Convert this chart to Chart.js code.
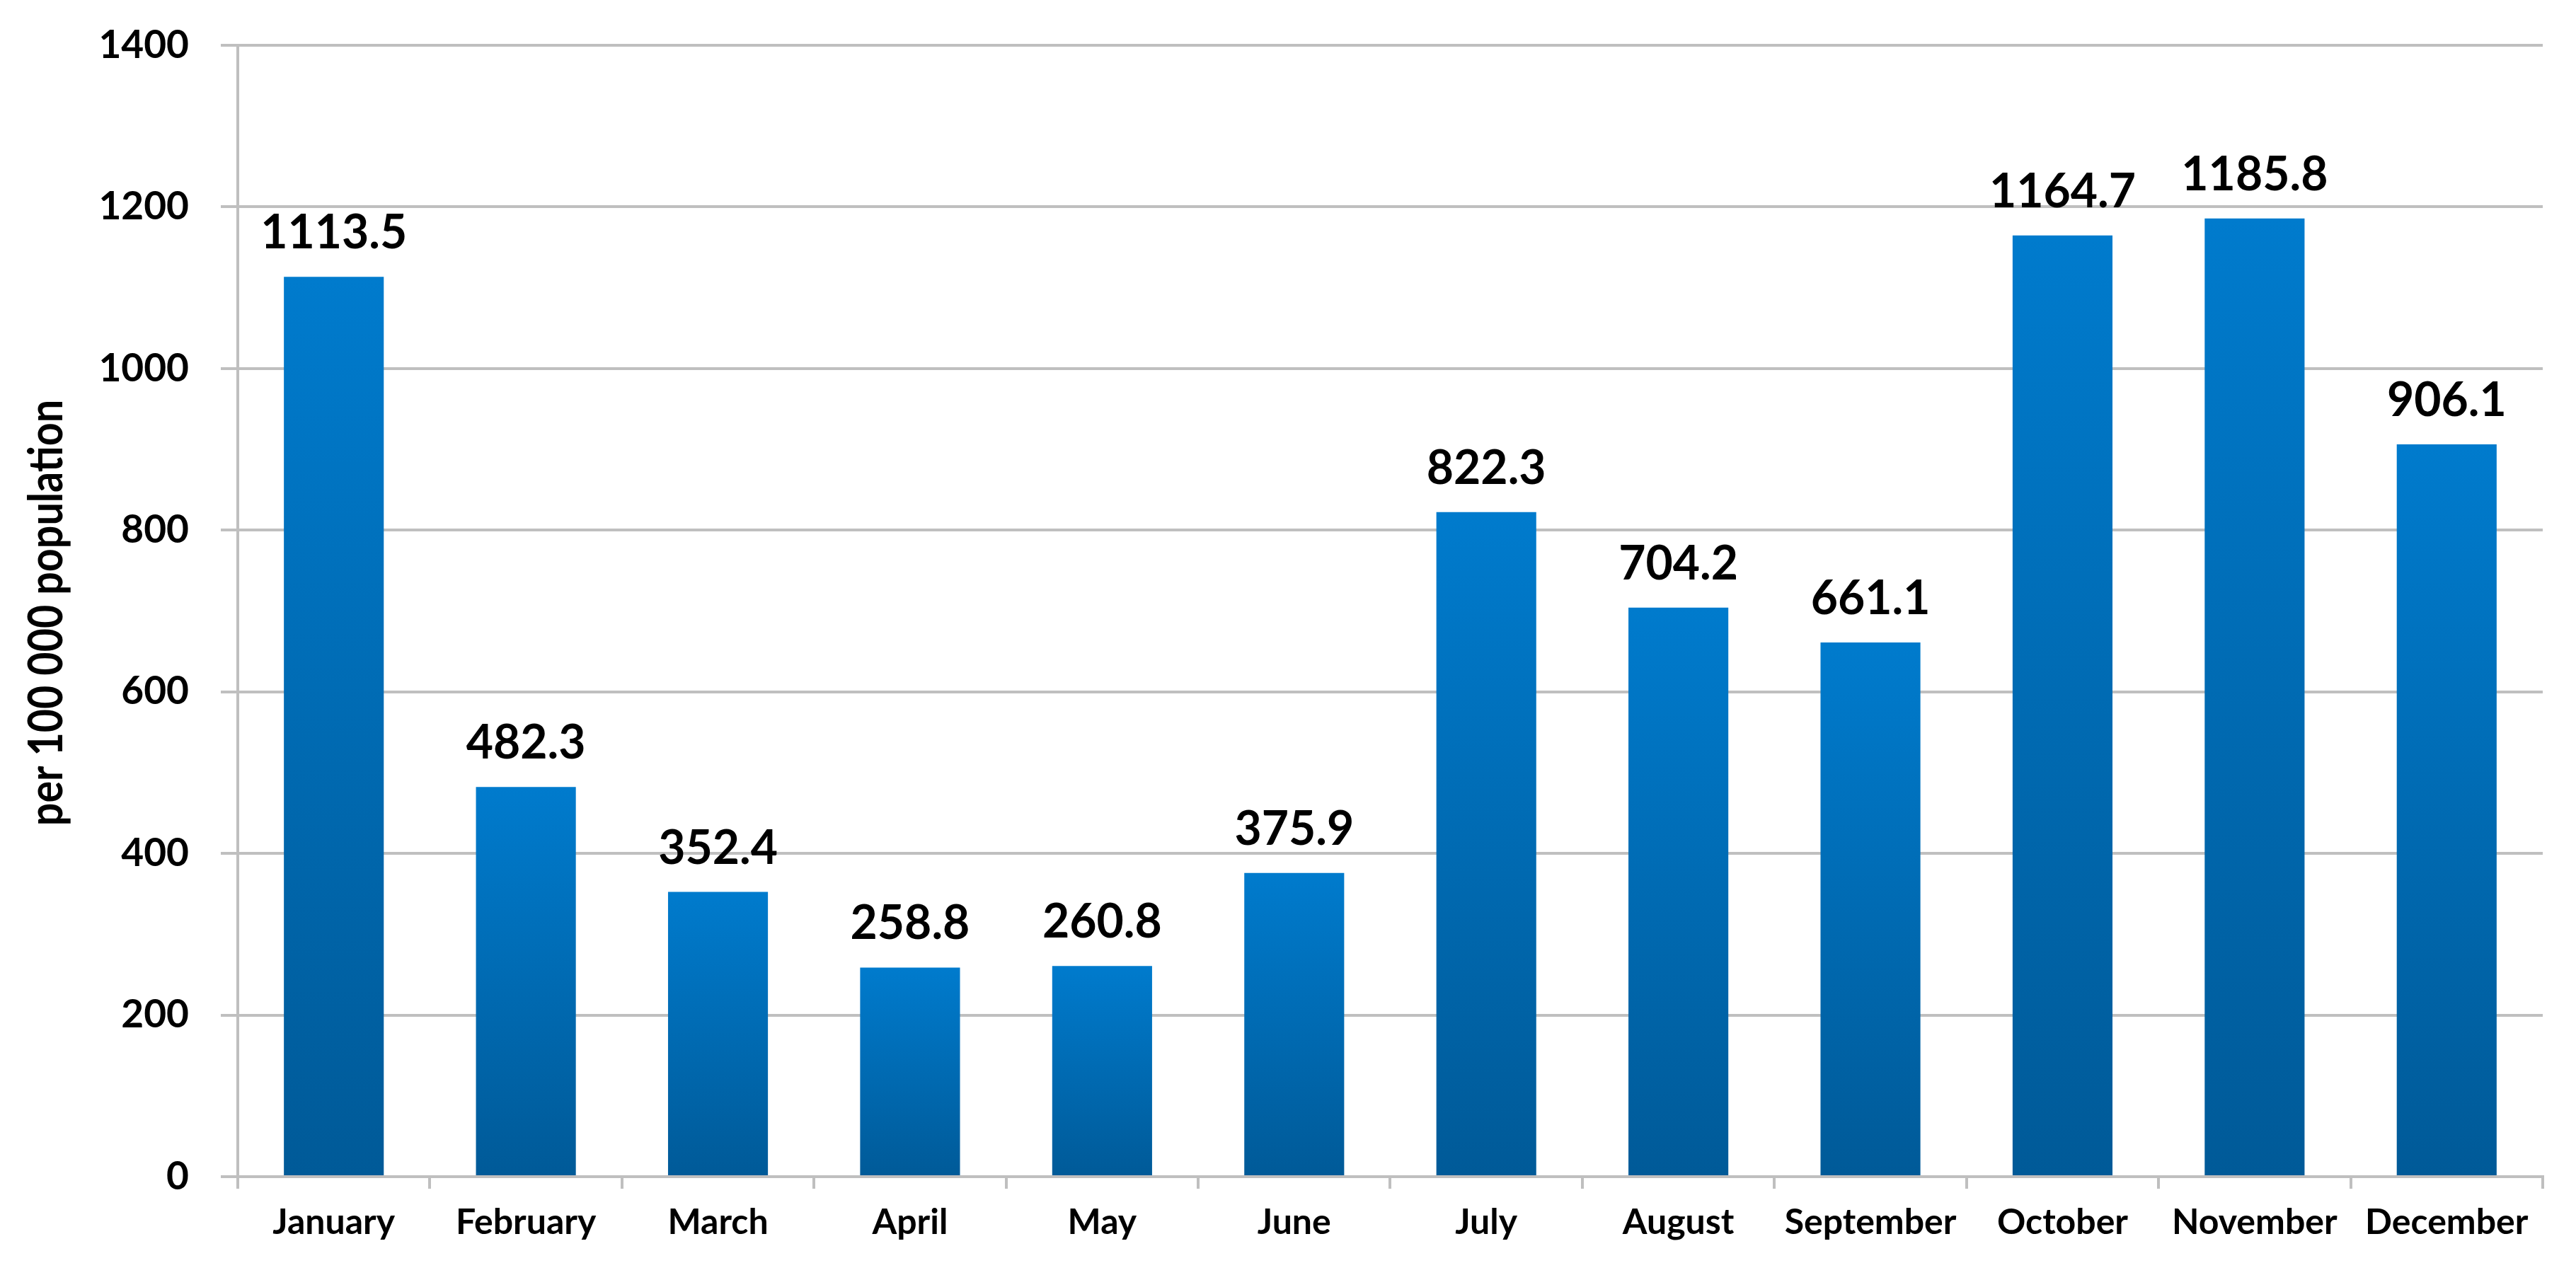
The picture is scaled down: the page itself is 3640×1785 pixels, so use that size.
<!DOCTYPE html>
<html>
<head>
<meta charset="utf-8">
<script src="https://cdn.jsdelivr.net/npm/chart.js@4"></script>
<style>
  html, body { margin: 0; padding: 0; background: #ffffff; }
  canvas { display: block; }
</style>
</head>
<body>
<canvas id="c" width="3640" height="1785"></canvas>
<script>
const months = ["January","February","March","April","May","June","July","August","September","October","November","December"];
const rates = [1113.5, 482.3, 352.4, 258.8, 260.8, 375.9, 822.3, 704.2, 661.1, 1164.7, 1185.8, 906.1];
const yTicks = [0, 200, 400, 600, 800, 1000, 1200, 1400];
const yTitle = "per 100 000 population";

const FONT = "Lato, 'Open Sans', sans-serif";

function barGradient(ctx) {
  const chart = ctx.chart;
  if (!chart.chartArea || ctx.type !== 'data') return '#0070BC';
  const ys = chart.scales.y;
  const top = ys.getPixelForValue(ctx.raw);
  const base = ys.getPixelForValue(0);
  if (!isFinite(top) || !isFinite(base) || top === base) return '#0070BC';
  const g = chart.ctx.createLinearGradient(0, top, 0, base);
  g.addColorStop(0, '#007BCD');
  g.addColorStop(1, '#005A98');
  return g;
}

const valueLabels = {
  id: 'valueLabels',
  afterDatasetsDraw(chart) {
    const ctx = chart.ctx;
    const meta = chart.getDatasetMeta(0);
    ctx.save();
    ctx.fillStyle = '#000000';
    ctx.font = "bold 66px " + FONT;
    ctx.textAlign = 'center';
    ctx.textBaseline = 'alphabetic';
    meta.data.forEach((el, i) => {
      ctx.fillText(rates[i].toFixed(1), el.x, el.y - 40);
    });
    ctx.restore();
  }
};

const axisTitle = {
  id: 'axisTitle',
  afterDraw(chart) {
    const ctx = chart.ctx;
    ctx.save();
    ctx.translate(88, 866);
    ctx.rotate(-Math.PI / 2);
    ctx.scale(0.87, 1);
    ctx.fillStyle = '#000000';
    ctx.font = "bold 66px " + FONT;
    ctx.textAlign = 'center';
    ctx.textBaseline = 'alphabetic';
    ctx.fillText(yTitle, 0, 0);
    ctx.restore();
  }
};

new Chart(document.getElementById('c'), {
  type: 'bar',
  data: {
    labels: months,
    datasets: [{
      data: rates,
      backgroundColor: barGradient,
      borderWidth: 0,
      barPercentage: 0.52,
      categoryPercentage: 1.0
    }]
  },
  options: {
    responsive: false,
    animation: false,
    devicePixelRatio: 1,
    layout: { padding: { left: 0, top: 64, right: 47, bottom: 0 } },
    plugins: {
      legend: { display: false },
      tooltip: { enabled: false },
      title: { display: false }
    },
    scales: {
      x: {
        offset: true,
        grid: {
          offset: true,
          drawOnChartArea: false,
          drawTicks: true,
          tickLength: 17,
          color: '#BFBFBF',
          lineWidth: 4
        },
        border: { display: true, color: '#BFBFBF', width: 4 },
        ticks: {
          color: '#000000',
          font: { family: FONT, size: 50, weight: 'bold' },
          padding: 18,
          maxRotation: 0,
          minRotation: 0,
          autoSkip: false
        },
        afterFit(scale) { scale.height = 122; }
      },
      y: {
        min: 0,
        max: 1400,
        afterBuildTicks(scale) { scale.ticks = yTicks.map(v => ({ value: v })); },
        grid: {
          color: '#BFBFBF',
          lineWidth: 4,
          drawTicks: true,
          tickLength: 24
        },
        border: { display: true, color: '#BFBFBF', width: 4 },
        ticks: {
          color: '#000000',
          font: { family: FONT, size: 55, weight: 'bold', lineHeight: 0.6 },
          padding: 45,
          callback: (v) => String(v)
        },
        afterFit(scale) { scale.width = 336; }
      }
    }
  },
  plugins: [valueLabels, axisTitle]
});
</script>
</body>
</html>
